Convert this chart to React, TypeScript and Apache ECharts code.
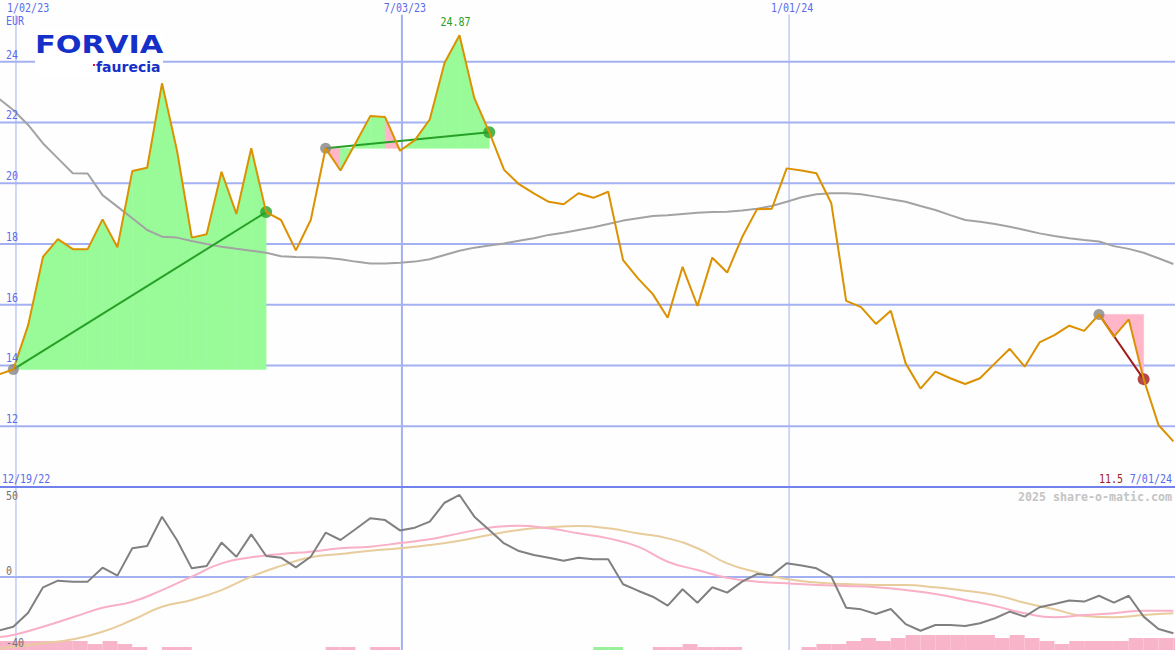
import React, { useEffect, useRef } from "react";
import * as echarts from "echarts";

// ---------- data (weekly points, week 0 = first week of 2023) ----------
const FIRST_WEEK = -1;

const price = [
  13.70, 13.87, 15.33, 17.58, 18.16, 17.83, 17.83, 18.81, 17.89, 20.40,
  20.51, 23.29, 21.09, 18.21, 18.32, 20.38, 18.99, 21.15, 19.05, 18.79,
  17.79, 18.79, 21.15, 20.42, 21.31, 22.21, 22.18, 21.07, 21.42, 22.10,
  23.97, 24.87, 22.80, 21.68, 20.44, 19.97, 19.67, 19.39, 19.31, 19.67,
  19.52, 19.72, 17.47, 16.87, 16.35, 15.57, 17.25, 15.96, 17.55, 17.06,
  18.22, 19.14, 19.16, 20.49, 20.42, 20.33, 19.34, 16.13, 15.92, 15.37,
  15.80, 14.07, 13.24, 13.80, 13.58, 13.39, 13.58, 14.07, 14.55, 13.96,
  14.76, 15.00, 15.31, 15.14, 15.68, 14.95, 15.52, 13.55, 12.04, 11.50,
];

const movingAvg = [
  22.80, 22.41, 21.92, 21.31, 20.82, 20.33, 20.32, 19.61, 19.23, 18.85,
  18.46, 18.24, 18.21, 18.10, 18.00, 17.91, 17.84, 17.78, 17.71, 17.60,
  17.57, 17.56, 17.55, 17.50, 17.42, 17.36, 17.36, 17.38, 17.42, 17.50,
  17.64, 17.78, 17.88, 17.95, 18.02, 18.11, 18.19, 18.30, 18.37, 18.46,
  18.55, 18.66, 18.77, 18.85, 18.92, 18.95, 18.99, 19.03, 19.05, 19.06,
  19.10, 19.16, 19.25, 19.39, 19.54, 19.64, 19.67, 19.67, 19.64, 19.56,
  19.47, 19.39, 19.25, 19.12, 18.95, 18.79, 18.73, 18.66, 18.57, 18.46,
  18.35, 18.26, 18.19, 18.13, 18.08, 17.93, 17.84, 17.71, 17.53, 17.34,
];

const oscillator = [
  -33.1, -30.6, -22.0, -6.3, -2.2, -2.8, -2.8, 5.8, 0.9, 17.8,
  19.2, 37.3, 22.9, 5.4, 6.9, 21.3, 12.6, 26.4, 13.0, 12.0,
  6.0, 12.6, 27.4, 22.9, 29.5, 36.3, 35.2, 28.8, 30.5, 34.2,
  45.9, 50.7, 37.3, 29.1, 20.8, 16.1, 13.6, 12.0, 10.1, 12.0,
  11.0, 11.0, -4.4, -8.4, -12.1, -17.6, -7.5, -15.8, -6.3, -9.6,
  -2.8, 1.9, 1.2, 8.5, 7.2, 5.4, 0.3, -18.9, -19.9, -22.8,
  -19.7, -29.0, -33.1, -29.6, -29.6, -30.2, -28.5, -25.4, -21.3, -24.4,
  -18.6, -16.6, -14.5, -15.1, -11.5, -15.8, -11.5, -24.4, -32.0, -34.7,
];

const signalWeeks = [
  -1, 0, 2, 4, 6, 8, 10, 12, 14, 16, 18, 20, 22, 24, 26, 28, 30, 32, 34, 36,
  38, 40, 42, 44, 46, 48, 50, 52, 54, 56, 58, 60, 62, 64, 66, 68, 70, 72, 74, 76, 78,
];
const signalPink = [
  -37.0, -35.7, -30.6, -24.8, -18.9, -15.2, -8.0, 0.3, 8.5, 12.2, 14.3, 15.7, 17.8, 18.8, 21.0, 23.3, 27.0, 30.5, 31.7, 30.1,
  27.0, 23.9, 18.8, 9.5, 4.4, -0.4, -2.8, -3.8, -4.9, -5.5, -6.3, -8.0, -10.4, -14.1, -17.8, -22.3, -24.8, -23.4, -22.3, -20.7, -20.7,
];
const signalTan = [
  -44.2, -43.0, -40.9, -38.4, -33.7, -26.5, -18.3, -14.1, -8.0, 0.3, 6.9, 12.2, 14.3, 16.3, 17.8, 19.8, 22.5, 26.0, 29.1, 30.7,
  31.5, 30.1, 27.0, 23.9, 17.8, 8.5, 3.0, -1.2, -3.4, -4.3, -4.9, -4.9, -6.3, -8.4, -11.0, -15.8, -19.9, -24.0, -24.8, -23.4, -22.3,
];

// histogram per week (bar spans week k .. k+1), sign = colour
const histogram = [
  3, 3, 3, 3, 3, 3, 2, 3, 2, 1, 0, 1, 1,
  0, 0, 0, 0, 0, 0, 0, 0, 0,
  1, 1, 0, 1, 1,
  0, 0, 0, 0, 0, 0, 0, 0, 0, 0, 0, 0, 0,
  -1, -1, 0, 0,
  1, 1, 2, 1, 1, 1,
  0, 0, 0, 0,
  1, 2, 2, 3, 4, 3, 4,
  5, 5, 5, 5, 5, 5,
  4, 5, 4, 3, 2,
  3, 3, 3, 3,
  4, 4, 4, 4,
];

const yTicks = [12, 14, 16, 18, 20, 22, 24];
const dateLines = [
  { week: 0.18, label: "1/02/23", width: 1 },
  { week: 26.13, label: "7/03/23", width: 2 },
  { week: 52.16, label: "1/01/24", width: 1 },
];
const patterns = [
  { from: 0, to: 17 },
  { from: 21, to: 32 },
  { from: 73, to: 76 },
];
const lowerLabels = ["50", "0", "-40"];
const currency = "EUR";
const firstDateLabel = "12/19/22";
const lastDateLabel = "7/01/24";
const watermark = "2025 share-o-matic.com";

// ---------- style / layout ----------
const X_MIN = -0.894;
const X_MAX = 78.109;
const MAIN_MIN = 10;
const MAIN_MAX = 26;
const LOW_MIN = -45;
const LOW_MAX = 55;
const VLINE_TOP = 25.55;

const GRID_BLUE = "#a3b1f2";
const BORDER_BLUE = "#7282ec";
const TEXT_BLUE = "#5a6ceb";
const PRICE_COLOR = "#dc9100";
const MA_COLOR = "#a3a3a3";
const FILL_GREEN = "#98fb98";
const FILL_PINK = "#ffb6c8";
const TREND_UP = "#26a026";
const TREND_DOWN = "#a01c1c";
const MONO = '"DejaVu Sans Mono", monospace';

const weeks = price.map((_, i) => i + FIRST_WEEK);
const priceAt = (k: number) => price[k - FIRST_WEEK];

export default function App() {
  const ref = useRef<HTMLDivElement>(null);

  useEffect(() => {
    document.body.style.margin = "0";
    const el = ref.current!;
    const chart = echarts.init(el, null, { renderer: "svg" });

    const fillSegments: number[][] = [];
    patterns.forEach((p) => {
      const base = priceAt(p.from);
      for (let k = p.from; k < p.to; k++) {
        fillSegments.push([k, priceAt(k), k + 1, priceAt(k + 1), base]);
      }
    });

    const lineRender = (x1: number, y1: number, x2: number, y2: number, color: string, w: number) => ({
      type: "line",
      shape: { x1, y1, x2, y2 },
      style: { stroke: color, lineWidth: w },
      silent: true,
    });

    const series: any[] = [
      {
        type: "custom",
        xAxisIndex: 0,
        yAxisIndex: 0,
        z: 1,
        silent: true,
        data: yTicks.map((v) => [X_MIN, v]),
        renderItem: (_p: any, api: any) => {
          const v = api.value(1);
          const a = api.coord([X_MIN, v]);
          const b = api.coord([X_MAX, v]);
          return lineRender(a[0], a[1], b[0], b[1], GRID_BLUE, 2);
        },
      },
      {
        type: "custom",
        xAxisIndex: 0,
        yAxisIndex: 0,
        z: 1,
        silent: true,
        data: dateLines.map((d) => [d.week, VLINE_TOP, d.width]),
        renderItem: (_p: any, api: any) => {
          const w = api.value(0);
          const a = api.coord([w, VLINE_TOP]);
          const b = api.coord([w, MAIN_MIN]);
          return lineRender(a[0], a[1], b[0], b[1], GRID_BLUE, api.value(2));
        },
      },
      {
        type: "custom",
        xAxisIndex: 0,
        yAxisIndex: 0,
        z: 2,
        silent: true,
        data: fillSegments,
        renderItem: (_p: any, api: any) => {
          const k0 = api.value(0);
          const v0 = api.value(1);
          const k1 = api.value(2);
          const v1 = api.value(3);
          const b = api.value(4);
          const color = v1 >= b ? FILL_GREEN : FILL_PINK;
          return {
            type: "polygon",
            shape: { points: [api.coord([k0, b]), api.coord([k0, v0]), api.coord([k1, v1]), api.coord([k1, b])] },
            style: { fill: color, stroke: color, lineWidth: 0.5 },
            silent: true,
          };
        },
      },
      {
        type: "line",
        xAxisIndex: 0,
        yAxisIndex: 0,
        z: 3,
        silent: true,
        symbol: "none",
        data: weeks.map((k, i) => [k, movingAvg[i]]),
        lineStyle: { color: MA_COLOR, width: 2 },
      },
      ...patterns.map((p) => ({
        type: "line",
        xAxisIndex: 0,
        yAxisIndex: 0,
        z: 4,
        silent: true,
        symbol: "none",
        data: [
          [p.from, priceAt(p.from)],
          [p.to, priceAt(p.to)],
        ],
        lineStyle: { color: priceAt(p.to) >= priceAt(p.from) ? TREND_UP : TREND_DOWN, width: 2 },
      })),
      {
        type: "scatter",
        xAxisIndex: 0,
        yAxisIndex: 0,
        z: 4,
        silent: true,
        data: patterns.flatMap((p) => [
          { value: [p.from, priceAt(p.from)], symbolSize: 11, itemStyle: { color: "#858585" } },
          {
            value: [p.to, priceAt(p.to)],
            symbolSize: 12,
            itemStyle: { color: priceAt(p.to) >= priceAt(p.from) ? TREND_UP : TREND_DOWN },
          },
        ]),
      },
      {
        type: "line",
        xAxisIndex: 0,
        yAxisIndex: 0,
        z: 5,
        silent: true,
        symbol: "none",
        data: weeks.map((k, i) => [k, price[i]]),
        lineStyle: { color: PRICE_COLOR, width: 2 },
      },
      {
        type: "custom",
        xAxisIndex: 0,
        yAxisIndex: 0,
        z: 6,
        silent: true,
        data: [[X_MIN, MAIN_MIN]],
        renderItem: (_p: any, api: any) => {
          const a = api.coord([X_MIN, MAIN_MIN]);
          const b = api.coord([X_MAX, MAIN_MIN]);
          return lineRender(a[0], a[1], b[0], b[1], BORDER_BLUE, 2);
        },
      },
      {
        type: "custom",
        xAxisIndex: 1,
        yAxisIndex: 1,
        z: 1,
        silent: true,
        data: [[X_MIN, 0]],
        renderItem: (_p: any, api: any) => {
          const a = api.coord([X_MIN, 0]);
          const b = api.coord([X_MAX, 0]);
          return lineRender(a[0], a[1], b[0], b[1], GRID_BLUE, 2);
        },
      },
      {
        type: "custom",
        xAxisIndex: 1,
        yAxisIndex: 1,
        z: 1,
        silent: true,
        data: dateLines.map((d) => [d.week, LOW_MAX, d.width]),
        renderItem: (_p: any, api: any) => {
          const w = api.value(0);
          const a = api.coord([w, LOW_MAX]);
          const b = api.coord([w, LOW_MIN]);
          return lineRender(a[0], a[1], b[0], b[1], GRID_BLUE, api.value(2));
        },
      },
      {
        type: "custom",
        xAxisIndex: 1,
        yAxisIndex: 2,
        z: 2,
        silent: true,
        data: histogram.map((h, i) => [i + FIRST_WEEK, h]),
        renderItem: (_p: any, api: any) => {
          const k = api.value(0);
          const h = api.value(1);
          if (!h) return null;
          const a = api.coord([k, 0]);
          const b = api.coord([k + 1, Math.abs(h)]);
          return {
            type: "rect",
            shape: { x: a[0], y: b[1], width: b[0] - a[0], height: a[1] - b[1] },
            style: { fill: h > 0 ? "#f8b4c8" : "#98f098" },
            silent: true,
          };
        },
      },
      {
        type: "line",
        xAxisIndex: 1,
        yAxisIndex: 1,
        z: 3,
        silent: true,
        symbol: "none",
        smooth: true,
        data: signalWeeks.map((k, i) => [k, signalTan[i]]),
        lineStyle: { color: "#e8cc9c", width: 2 },
      },
      {
        type: "line",
        xAxisIndex: 1,
        yAxisIndex: 1,
        z: 3,
        silent: true,
        symbol: "none",
        smooth: true,
        data: signalWeeks.map((k, i) => [k, signalPink[i]]),
        lineStyle: { color: "#f9b0c6", width: 2 },
      },
      {
        type: "line",
        xAxisIndex: 1,
        yAxisIndex: 1,
        z: 4,
        silent: true,
        symbol: "none",
        data: weeks.map((k, i) => [k, oscillator[i]]),
        lineStyle: { color: "#808080", width: 2 },
      },
    ];

    const option: any = {
      animation: false,
      backgroundColor: "#fdfefd",
      grid: [
        { left: 0, right: 0, top: 1, height: 486, containLabel: false },
        { left: 0, right: 0, top: 488, height: 162, containLabel: false },
      ],
      xAxis: [
        { type: "value", gridIndex: 0, min: X_MIN, max: X_MAX, show: false },
        { type: "value", gridIndex: 1, min: X_MIN, max: X_MAX, show: false },
      ],
      yAxis: [
        { type: "value", gridIndex: 0, min: MAIN_MIN, max: MAIN_MAX, show: false },
        { type: "value", gridIndex: 1, min: LOW_MIN, max: LOW_MAX, show: false },
        { type: "value", gridIndex: 1, min: 0, max: 54, show: false },
      ],
      series,
    };
    chart.setOption(option);

    const p0 = (x: number, y: number) => chart.convertToPixel({ xAxisIndex: 0, yAxisIndex: 0 }, [x, y]) as number[];
    const p1 = (x: number, y: number) => chart.convertToPixel({ xAxisIndex: 1, yAxisIndex: 1 }, [x, y]) as number[];

    // pixel-font look: 12px mono squeezed to ~6px per character
    const txt = (
      text: string,
      x: number,
      y: number,
      fill: string,
      align: string = "left",
      size: number = 12,
      weight: string = "normal",
      family: string = MONO,
      scaleX: number = 0.835
    ) => ({
      type: "text",
      x,
      y,
      scaleX,
      silent: true,
      z: 100,
      style: {
        text,
        fill,
        font: `${weight} ${size}px ${family}`,
        align,
        verticalAlign: "middle",
        textAlign: align,
        textVerticalAlign: "middle",
      },
    });

    const elements: any[] = [];
    dateLines.forEach((d) => {
      const cx = p0(d.week, MAIN_MAX)[0] + 3;
      const w = d.label.length * 6.02;
      elements.push(txt(d.label, Math.max(7, cx - w / 2), 8.5, TEXT_BLUE));
    });
    elements.push(txt(currency, 6, 21, TEXT_BLUE));

    yTicks.forEach((v) => {
      const y = p0(0, v)[1];
      elements.push(txt(String(v), 6, y - 7, TEXT_BLUE));
    });

    let peak = 0;
    price.forEach((v, i) => {
      if (v > price[peak]) peak = i;
    });
    const pk = p0(weeks[peak], price[peak]);
    elements.push(txt(price[peak].toFixed(2), pk[0] - 4, pk[1] - 13.5, TREND_UP, "center"));

    elements.push(txt(firstDateLabel, 2, 479.5, TEXT_BLUE));
    elements.push(txt(lastDateLabel, 1172, 479.5, TEXT_BLUE, "right"));
    elements.push(txt(String(price[price.length - 1]), 1123, 479.5, TREND_DOWN, "right"));
    elements.push(txt(watermark, 1172, 496.5, "#c4c4c4", "right", 12, "bold", MONO, 0.97));

    lowerLabels.forEach((l) => {
      const v = Number(l);
      const y = p1(0, v)[1];
      const dy = v === 0 ? -6 : v < 0 ? 1 : 0;
      elements.push(txt(l, 6, y + dy, "#747474"));
    });

    // logo
    elements.push({
      type: "rect",
      shape: { x: 35, y: 29, width: 128, height: 47 },
      style: { fill: "#ffffff" },
      silent: true,
      z: 99,
    });
    elements.push({
      type: "text",
      x: 35,
      y: 45,
      scaleX: 1.24,
      silent: true,
      z: 100,
      style: {
        text: "FORVIA",
        fill: "#1530c8",
        font: 'bold 24.5px "DejaVu Sans", sans-serif',
        align: "left",
        verticalAlign: "middle",
        textAlign: "left",
        textVerticalAlign: "middle",
      },
    });
    elements.push({
      type: "rect",
      shape: { x: 93, y: 64, width: 2, height: 2 },
      style: { fill: "#e3123c" },
      silent: true,
      z: 100,
    });
    elements.push(txt("faurecia", 96, 67, "#1530c8", "left", 14, "bold", '"DejaVu Sans", sans-serif', 1));

    chart.setOption({ graphic: { elements } });

    return () => chart.dispose();
  }, []);

  return <div ref={ref} style={{ width: 1175, height: 650 }} />;
}
